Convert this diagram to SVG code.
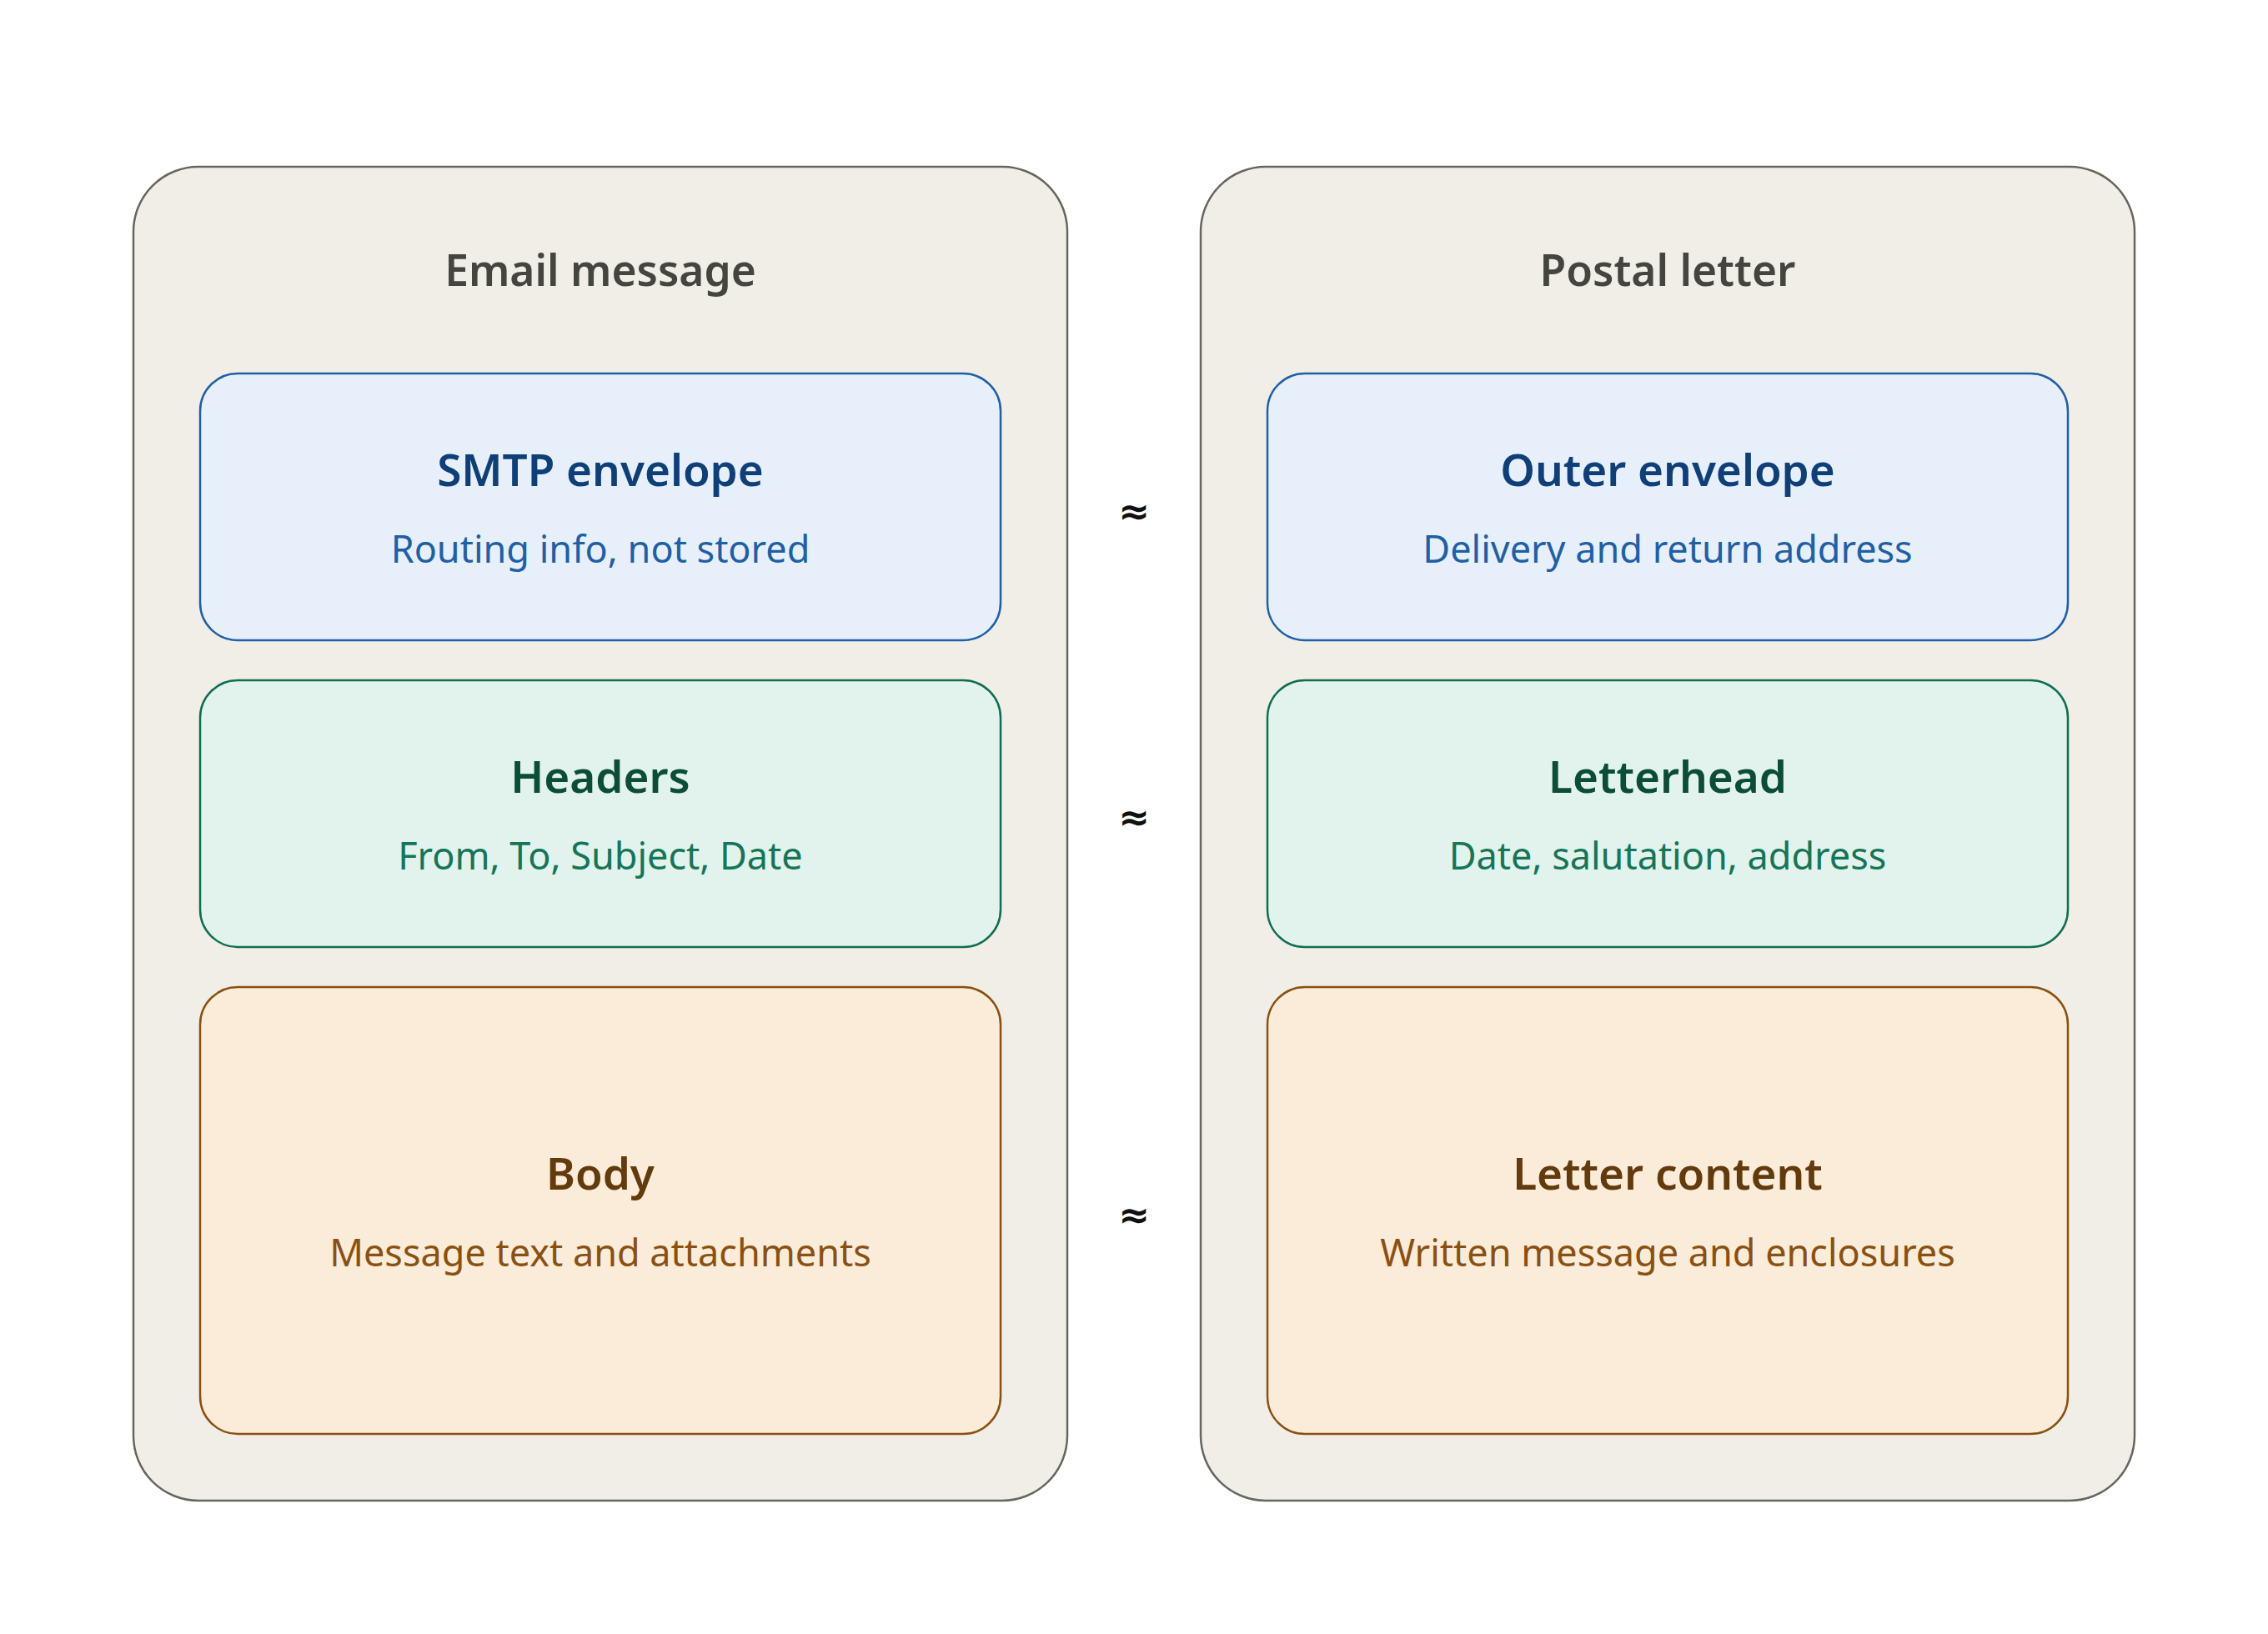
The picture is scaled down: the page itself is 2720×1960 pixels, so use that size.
<svg xmlns="http://www.w3.org/2000/svg" width="2720" height="1960" viewBox="0 0 2720 1960">
<style>
text{font-family:"Noto Sans","Open Sans","DejaVu Sans",sans-serif;text-anchor:middle}
.outer{fill:#f1eee8;stroke:#66665f;stroke-width:2.5}
.ot{font-size:51.5px;font-weight:600;fill:#45453f}
.nt{font-size:53px;font-weight:600}
.ns{font-size:45px;font-weight:400}
.blue rect{fill:#e7f0fa;stroke:#1f5fa8;stroke-width:2.5}
.blue .nt{fill:#0e3f78}.blue .ns{fill:#1f5fa8}
.green rect{fill:#e2f3ed;stroke:#0f6e50;stroke-width:2.5}
.green .nt{fill:#0b4d36}.green .ns{fill:#147656}
.orange rect{fill:#faecd9;stroke:#8a5010;stroke-width:2.5}
.orange .nt{fill:#633a0b}.orange .ns{fill:#8a5010}
.approx{font-family:"DejaVu Sans",sans-serif;font-size:45px;font-weight:700;fill:#111}
</style>
<rect width="2720" height="1960" fill="#ffffff"/>
<g id="email">
<rect class="outer" x="160" y="200" width="1120" height="1600" rx="78"/>
<text class="ot" x="720" y="343">Email message</text>
</g>
<g id="postal">
<rect class="outer" x="1440" y="200" width="1120" height="1600" rx="78"/>
<text class="ot" x="2000" y="343">Postal letter</text>
</g>
<g id="smtp" class="blue">
<rect x="240" y="448" width="960" height="320" rx="45"/>
<text class="nt" x="720" y="583">SMTP envelope</text>
<text class="ns" x="720" y="675">Routing info, not stored</text>
</g>
<g id="headers" class="green">
<rect x="240" y="816" width="960" height="320" rx="45"/>
<text class="nt" x="720" y="951">Headers</text>
<text class="ns" x="720" y="1043">From, To, Subject, Date</text>
</g>
<g id="body" class="orange">
<rect x="240" y="1184" width="960" height="536" rx="45"/>
<text class="nt" x="720" y="1427">Body</text>
<text class="ns" x="720" y="1519">Message text and attachments</text>
</g>
<g id="outer-envelope" class="blue">
<rect x="1520" y="448" width="960" height="320" rx="45"/>
<text class="nt" x="2000" y="583">Outer envelope</text>
<text class="ns" x="2000" y="675">Delivery and return address</text>
</g>
<g id="letterhead" class="green">
<rect x="1520" y="816" width="960" height="320" rx="45"/>
<text class="nt" x="2000" y="951">Letterhead</text>
<text class="ns" x="2000" y="1043">Date, salutation, address</text>
</g>
<g id="letter-content" class="orange">
<rect x="1520" y="1184" width="960" height="536" rx="45"/>
<text class="nt" x="2000" y="1427">Letter content</text>
<text class="ns" x="2000" y="1519">Written message and enclosures</text>
</g>
<g id="connectors">
<text class="approx" x="1360" y="629">≈</text>
<text class="approx" x="1360" y="996">≈</text>
<text class="approx" x="1360" y="1473">≈</text>
</g>
</svg>
